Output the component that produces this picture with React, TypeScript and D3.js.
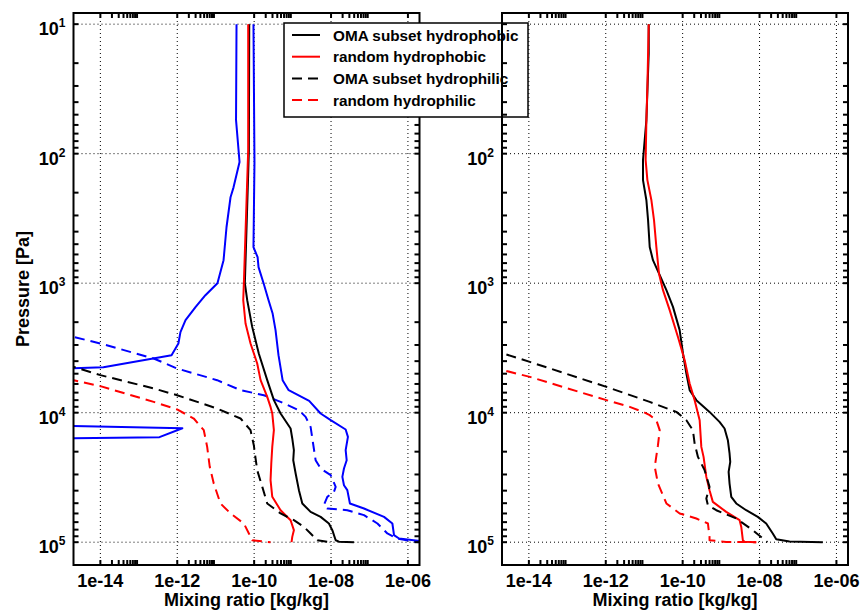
import React from "react";
import * as d3 from "d3";

// each point: [pressure (Pa), mixing ratio (kg/kg)]
type Pt = [number, number];

// ---- left panel ----
const omaPhobicL: Pt[] = [
  [10, 7.45e-11], [94, 7.3e-11], [1000, 5.73e-11], [1353, 6.6e-11], [2175, 8.9e-11],
  [3491, 1.32e-10], [5610, 2.19e-10], [8003, 3.26e-10], [10140, 4.87e-10], [13250, 8.87e-10],
  [15820, 9.8e-10], [19480, 1.08e-9], [23280, 1.04e-9], [29490, 1.2e-9], [39650, 1.46e-9],
  [50230, 1.79e-9], [58350, 2.94e-9], [63770, 5.36e-9], [71710, 8.8e-9], [80760, 1.08e-8],
  [96540, 1.32e-8], [99000, 1.61e-8], [100000, 3.94e-8],
];
const randomPhobicL: Pt[] = [
  [10, 7.0e-11], [94, 7.0e-11], [1000, 5.4e-11], [1353, 5.2e-11], [2048, 5.97e-11],
  [2923, 8.05e-11], [4169, 1.2e-10], [5610, 1.47e-10], [7551, 2.19e-10], [9020, 2.67e-10],
  [10140, 2.96e-10], [13650, 3.26e-10], [18370, 2.96e-10], [24680, 2.79e-10], [33200, 2.67e-10],
  [44650, 2.96e-10], [56640, 4.87e-10], [67640, 8.87e-10], [80760, 1.08e-9], [90990, 9.8e-10],
  [100000, 9.4e-10],
];
const omaPhilicL: Pt[] = [
  [10, 1e-20], [3727, 3.1e-16], [4430, 2.02e-15], [5130, 1e-14], [6500, 2.44e-13],
  [7328, 9.9e-13], [9290, 1.09e-11], [11090, 4.43e-11], [13650, 8.05e-11], [17820, 9.8e-11],
  [22590, 1.09e-10], [27790, 1.2e-10], [37420, 1.63e-10], [50230, 2.19e-10], [59980, 4.87e-10],
  [67640, 1.08e-9], [76180, 1.97e-9], [85650, 2.94e-9], [96540, 4.4e-9], [100000, 9.8e-9],
];
const randomPhilicL: Pt[] = [
  [10, 1e-20], [4953, 3.1e-16], [5610, 2.02e-15], [6240, 1e-14], [8254, 2.44e-13],
  [9445, 9.9e-13], [11090, 2.69e-12], [13650, 4.9e-12], [18370, 6.0e-12], [26190, 7.0e-12],
  [35240, 8.9e-12], [50230, 1.33e-11], [59980, 2.43e-11], [71710, 5.4e-11], [85650, 7.3e-11],
  [96540, 8.9e-11], [100000, 2.67e-10],
];
// blue range lines (not in legend)
const allMinL: Pt[] = [
  [10, 3.48e-11], [55, 3.38e-11], [116, 4.17e-11], [182, 2.91e-11], [217, 2.43e-11],
  [370, 1.91e-11], [664, 1.6e-11], [1000, 1.11e-11], [1239, 5.4e-12], [1532, 2.98e-12],
  [1931, 1.64e-12], [2390, 1.21e-12], [2923, 1.07e-12], [3597, 7.1e-13], [4454, 1.2e-14],
  [4533, 1.98e-15], [5110, 1e-20], [11830, 1e-20], [13180, 1.36e-12], [15460, 3.44e-13],
  [16500, 1e-20], [100000, 1e-20],
];
const allMaxL: Pt[] = [
  [10, 9.6e-11], [116, 1.02e-10], [527, 9.6e-11], [630, 1.23e-10], [752, 1.3e-10],
  [1000, 1.76e-10], [1353, 2.37e-10], [1705, 3.01e-10], [2305, 3.6e-10], [3597, 4.3e-10],
  [5610, 5.5e-10], [6700, 7.9e-10], [8100, 2.7e-9], [10140, 5.36e-9], [11430, 9.8e-9],
  [13490, 2.4e-8], [15380, 2.75e-8], [19480, 2.4e-8], [23280, 2.55e-8], [26980, 2.17e-8],
  [31310, 1.97e-8], [36310, 2.17e-8], [39650, 2.65e-8], [50230, 3.1e-8], [54950, 7.2e-8],
  [63770, 2.39e-7], [71710, 3.94e-7], [88290, 4.35e-7], [93690, 5.86e-7], [100000, 4e-6],
];
const allMaxPhilicL: Pt[] = [
  [10, 1e-20], [2265, 3.1e-16], [2600, 2.02e-15], [2923, 1e-14], [3815, 2.44e-13],
  [4560, 9.9e-13], [5610, 1.09e-11], [6700, 4.43e-11], [7328, 1.79e-10], [8254, 4.87e-10],
  [9570, 1.46e-9], [10770, 2.18e-9], [12870, 2.94e-9], [15820, 3.26e-9], [23280, 3.97e-9],
  [26980, 5.36e-9], [30380, 9.8e-9], [37420, 1.32e-8], [40850, 1.19e-8], [44650, 8.0e-9],
  [51790, 6.5e-9], [54950, 8.0e-9], [56640, 2.65e-8], [61820, 7.2e-8], [71710, 1.61e-7],
  [85650, 2.92e-7], [93690, 5.3e-7], [100000, 1.9e-6],
];

// ---- right panel ----
const omaPhobicR: Pt[] = [
  [10, 1.31e-11], [16.8, 1.31e-11], [55, 1.14e-11], [112, 9.3e-12], [160, 9.3e-12],
  [229, 1.14e-11], [326, 1.26e-11], [525, 1.39e-11], [664, 1.69e-11], [841, 2.42e-11],
  [1132, 3.78e-11], [1524, 5.6e-11], [2305, 8.36e-11], [3491, 1.02e-10], [4980, 1.25e-10],
  [6700, 1.52e-10], [8003, 2.27e-10], [9860, 5.0e-10], [11780, 9.1e-10], [13250, 1.23e-9],
  [16300, 1.5e-9], [20650, 1.66e-9], [23990, 1.73e-9], [28640, 1.57e-9], [35240, 1.66e-9],
  [44650, 1.84e-9], [50230, 2.48e-9], [56640, 4.5e-9], [63770, 9.0e-9], [71710, 1.49e-8],
  [85650, 2.21e-8], [94880, 2.72e-8], [98800, 6.0e-8], [100000, 4.4e-7],
];
const randomPhobicR: Pt[] = [
  [10, 1.31e-11], [30.5, 1.21e-11], [55, 1.14e-11], [112, 1.09e-11], [160, 1.21e-11],
  [229, 1.54e-11], [326, 1.8e-11], [525, 2.07e-11], [841, 2.42e-11], [1132, 3.08e-11],
  [1615, 4.6e-11], [2600, 7.55e-11], [3933, 1.13e-10], [5956, 1.52e-10], [8003, 2.05e-10],
  [11430, 2.77e-10], [18370, 3.06e-10], [21950, 3.5e-10], [31310, 4.13e-10], [39650, 5.0e-10],
  [48820, 6.1e-10], [58350, 1.36e-9], [67640, 3.03e-9], [76180, 3.35e-9], [96540, 3.68e-9],
  [99200, 4.07e-9], [100000, 8.2e-9],
];
const omaPhilicR: Pt[] = [
  [10, 1e-20], [2904, 3.1e-16], [3491, 2.15e-15], [4053, 1.06e-14], [6321, 1.04e-12],
  [8254, 1.39e-11], [9860, 6.85e-11], [11430, 1.25e-10], [13650, 1.85e-10], [17300, 2.05e-10],
  [21950, 2.5e-10], [27790, 3.72e-10], [37420, 5.0e-10], [45920, 4.13e-10], [51790, 4.54e-10],
  [56640, 7.5e-10], [65640, 2.48e-9], [80760, 6.7e-9], [93690, 1.22e-8], [100000, 1.6e-8],
];
const randomPhilicR: Pt[] = [
  [10, 1e-20], [4064, 3.1e-16], [4697, 2.15e-15], [5291, 1.06e-14], [8003, 1.04e-12],
  [9020, 4.2e-12], [9860, 9.3e-12], [10450, 1.39e-11], [11430, 2.07e-11], [13650, 2.53e-11],
  [17820, 2.28e-11], [26190, 1.88e-11], [35240, 2.28e-11], [50230, 3.78e-11], [59980, 8.36e-11],
  [65640, 2.27e-10], [71710, 4.54e-10], [90990, 5.0e-10], [96540, 5.0e-10], [99500, 1.36e-9],
  [100000, 8.2e-9],
];

// ---- axes ----
const xDomain: [number, number] = [2e-15, 2e-6];
const yDomain: [number, number] = [8.2, 1.5e5];
const xTicks = [1e-14, 1e-12, 1e-10, 1e-8, 1e-6];
const xTickLabels = ["1e-14", "1e-12", "1e-10", "1e-08", "1e-06"];
const xMinorDecades = [1e-14, 1e-12, 1e-10, 1e-8];
const yTicks = [1e1, 1e2, 1e3, 1e4, 1e5];
const yTickExp = ["1", "2", "3", "4", "5"];
const yMinorDecades = [1e1, 1e2, 1e3, 1e4];
const minorSteps = [2, 3, 4, 5, 6, 7, 8, 9];

const legendLabels = [
  "OMA subset hydrophobic",
  "random hydrophobic",
  "OMA subset hydrophilic",
  "random hydrophilic",
];

const BLACK = "#000000";
const RED = "#ff0000";
const BLUE = "#0000ff";
const DASH = "10,6";
const FONT = "'Liberation Sans', Arial, Helvetica, sans-serif";

const TOP = 13;
const PW = 346;
const PH = 552;

type Series = { data: Pt[]; color: string; dashed: boolean };

const leftSeries: Series[] = [
  { data: allMinL, color: BLUE, dashed: false },
  { data: allMaxL, color: BLUE, dashed: false },
  { data: allMaxPhilicL, color: BLUE, dashed: true },
  { data: omaPhobicL, color: BLACK, dashed: false },
  { data: randomPhobicL, color: RED, dashed: false },
  { data: omaPhilicL, color: BLACK, dashed: true },
  { data: randomPhilicL, color: RED, dashed: true },
];
const rightSeries: Series[] = [
  { data: omaPhobicR, color: BLACK, dashed: false },
  { data: randomPhobicR, color: RED, dashed: false },
  { data: omaPhilicR, color: BLACK, dashed: true },
  { data: randomPhilicR, color: RED, dashed: true },
];
const legendStyles = [
  { color: BLACK, dashed: false },
  { color: RED, dashed: false },
  { color: BLACK, dashed: true },
  { color: RED, dashed: true },
];

const makeScales = (left: number) => {
  const x = d3.scaleLog().domain(xDomain).range([left, left + PW]);
  const y = d3.scaleLog().domain(yDomain).range([TOP, TOP + PH]);
  return { x, y };
};

const PanelBody = ({
  id,
  left,
  series,
  yLabel,
  hideTopLabel,
}: {
  id: string;
  left: number;
  series: Series[];
  yLabel?: boolean;
  hideTopLabel?: boolean;
}) => {
  const { x, y } = makeScales(left);
  const line = d3
    .line<Pt>()
    .x((d) => x(d[1]))
    .y((d) => y(d[0]));
  const bottom = TOP + PH;
  return (
    <g>
      <defs>
        <clipPath id={"clip" + id}>
          <rect x={left} y={TOP} width={PW} height={PH} />
        </clipPath>
      </defs>
      {/* dotted grid */}
      {xTicks.map((v) => (
        <line key={"gx" + v} x1={x(v)} x2={x(v)} y1={TOP} y2={bottom} stroke="#000" strokeWidth={1} strokeDasharray="1,3" />
      ))}
      {yTicks.map((v) => (
        <line key={"gy" + v} x1={left} x2={left + PW} y1={y(v)} y2={y(v)} stroke="#000" strokeWidth={1} strokeDasharray="1,3" />
      ))}
      <g clipPath={`url(#clip${id})`}>
        {series.map((s, i) => (
          <path
            key={i}
            d={line(s.data) || ""}
            fill="none"
            stroke={s.color}
            strokeWidth={2}
            strokeDasharray={s.dashed ? DASH : undefined}
            strokeLinejoin="round"
          />
        ))}
      </g>
      {/* tick labels */}
      <g fontFamily={FONT} fontWeight="bold" fill="#000">
        {xTicks.map((v, i) => (
          <text key={"xl" + v} x={x(v)} y={bottom + 22} fontSize={18} textAnchor="middle">
            {xTickLabels[i]}
          </text>
        ))}
        {yTicks.map((v, i) =>
          hideTopLabel && i === 0 ? null : (
            <text key={"yl" + v} x={left - 8} y={y(v) + 11} fontSize={18} textAnchor="end">
              10
              <tspan fontSize={12} dy={-8}>
                {yTickExp[i]}
              </tspan>
            </text>
          )
        )}
        <text x={left + PW / 2} y={606} fontSize={18} textAnchor="middle">
          Mixing ratio [kg/kg]
        </text>
        {yLabel && (
          <text transform={`translate(29, ${TOP + PH / 2}) rotate(-90)`} fontSize={18} textAnchor="middle">
            Pressure [Pa]
          </text>
        )}
      </g>
    </g>
  );
};

const PanelFrame = ({ left }: { left: number }) => {
  const { x, y } = makeScales(left);
  const bottom = TOP + PH;
  const right = left + PW;
  const T = 5;
  const xMinor = xMinorDecades.flatMap((d) => minorSteps.map((m) => m * d));
  const yMinor = yMinorDecades.flatMap((d) => minorSteps.map((m) => m * d));
  return (
    <g stroke="#000" strokeWidth={2}>
      {[...xTicks, ...xMinor].map((v, i) => (
        <g key={"xt" + i}>
          <line x1={x(v)} x2={x(v)} y1={bottom} y2={bottom - T} />
          <line x1={x(v)} x2={x(v)} y1={TOP} y2={TOP + T} />
        </g>
      ))}
      {[...yTicks, ...yMinor].map((v, i) => (
        <g key={"yt" + i}>
          <line x1={left} x2={left + T} y1={y(v)} y2={y(v)} />
          <line x1={right} x2={right - T} y1={y(v)} y2={y(v)} />
        </g>
      ))}
      <rect x={left} y={TOP} width={PW} height={PH} fill="none" />
    </g>
  );
};

const Legend = () => {
  const lx = 284;
  const ly = 23;
  const rowY = (i: number) => 35 + i * 21.7;
  return (
    <g>
      <rect x={lx} y={ly} width={244} height={94} fill="#fff" stroke="#000" strokeWidth={1.5} />
      {legendLabels.map((label, i) => (
        <g key={label}>
          <line
            x1={292}
            x2={320}
            y1={rowY(i)}
            y2={rowY(i)}
            stroke={legendStyles[i].color}
            strokeWidth={2}
            strokeDasharray={legendStyles[i].dashed ? DASH : undefined}
          />
          <text x={333} y={rowY(i) + 5.5} fontFamily={FONT} fontWeight="bold" fontSize={15.3} fill="#000">
            {label}
          </text>
        </g>
      ))}
    </g>
  );
};

export default function App() {
  const leftX = 73.5;
  const rightX = 502;
  return (
    <svg
      width={865}
      height={613}
      viewBox="0 0 865 613"
      style={{ position: "absolute", left: 0, top: 0, background: "#fff" }}
    >
      <rect width={865} height={613} fill="#fff" />
      <PanelBody id="L" left={leftX} series={leftSeries} yLabel />
      <PanelFrame left={leftX} />
      {/* the right panel's 10^1 label sits under the legend in the original */}
      <PanelBody id="R" left={rightX} series={rightSeries} hideTopLabel />
      <Legend />
      <PanelFrame left={rightX} />
    </svg>
  );
}
